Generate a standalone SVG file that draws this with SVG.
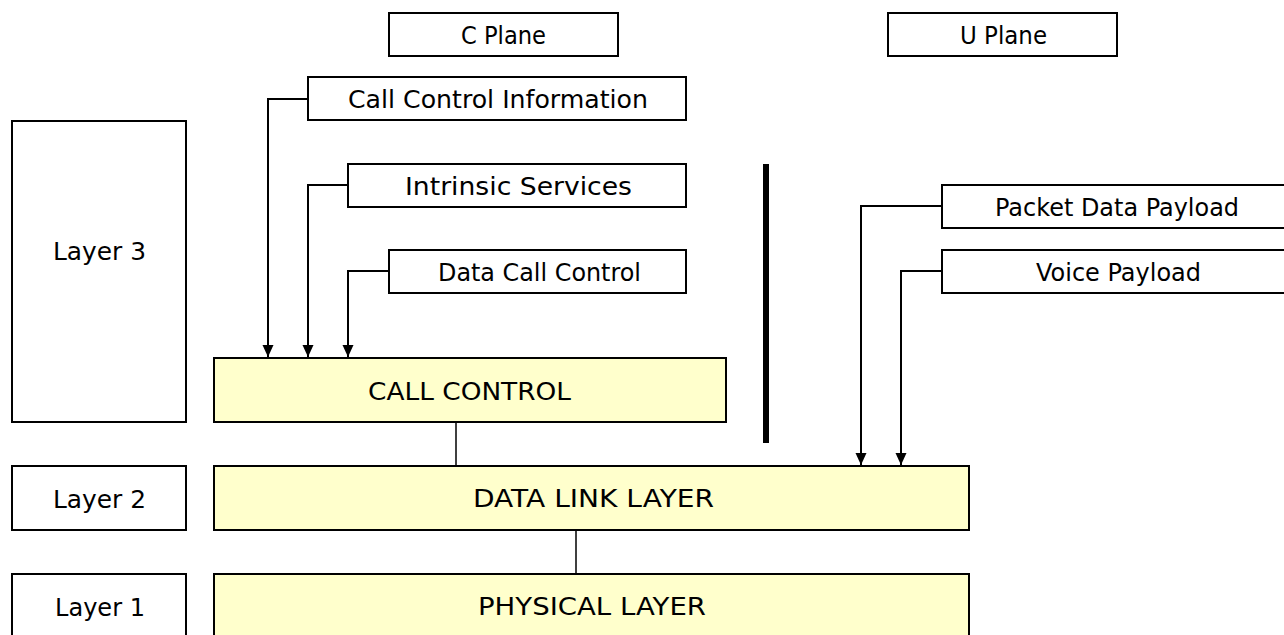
<svg xmlns="http://www.w3.org/2000/svg" width="1284" height="635" viewBox="0 0 1284 635">
<defs>
<style>
.box{fill:#ffffff;stroke:#000;stroke-width:2}
.layer{fill:#ffffcc;stroke:#000;stroke-width:2}
.t{font-family:"DejaVu Sans","Liberation Sans",sans-serif;font-size:24px;fill:#000;text-anchor:middle}
.c{fill:none;stroke:#000;stroke-width:2}
.l{fill:none;stroke:#000;stroke-width:1.5}
</style>
<marker id="ah" markerWidth="12" markerHeight="12" refX="12" refY="6" orient="auto" markerUnits="userSpaceOnUse" viewBox="0 0 12 12">
<path d="M0,0.5 L12,6 L0,11.5 Z" fill="#000"/>
</marker>
</defs>
<rect width="1284" height="635" fill="#fff"/>
<g id="cplane"><rect class="box" x="389" y="13" width="229" height="43"/><text class="t" x="503.5" y="44" textLength="85" lengthAdjust="spacingAndGlyphs">C Plane</text></g>
<g id="uplane"><rect class="box" x="888" y="13" width="229" height="43"/><text class="t" x="1003.5" y="44" textLength="87" lengthAdjust="spacingAndGlyphs">U Plane</text></g>
<g id="cci"><rect class="box" x="308" y="77" width="378" height="43"/><text class="t" x="498" y="108" textLength="300" lengthAdjust="spacingAndGlyphs">Call Control Information</text></g>
<g id="is"><rect class="box" x="348" y="164" width="338" height="43"/><text class="t" x="518.5" y="195" textLength="227" lengthAdjust="spacingAndGlyphs">Intrinsic Services</text></g>
<g id="dcc"><rect class="box" x="389" y="250" width="297" height="43"/><text class="t" x="539.5" y="281" textLength="203" lengthAdjust="spacingAndGlyphs">Data Call Control</text></g>
<g id="layer3"><rect class="box" x="12" y="121" width="174" height="301"/><text class="t" x="99.5" y="260" textLength="93" lengthAdjust="spacingAndGlyphs">Layer 3</text></g>
<g id="callcontrol"><rect class="layer" x="214" y="358" width="512" height="64"/><text class="t" x="469.5" y="400" textLength="203" lengthAdjust="spacingAndGlyphs">CALL CONTROL</text></g>
<g id="separator"><rect x="763" y="164" width="6" height="279" fill="#000"/></g>
<g id="pdp"><rect class="box" x="942" y="185" width="350" height="43"/><text class="t" x="1117" y="216" textLength="244" lengthAdjust="spacingAndGlyphs">Packet Data Payload</text></g>
<g id="vp"><rect class="box" x="942" y="250" width="350" height="43"/><text class="t" x="1118.5" y="281" textLength="165" lengthAdjust="spacingAndGlyphs">Voice Payload</text></g>
<g id="layer2"><rect class="box" x="12" y="466" width="174" height="64"/><text class="t" x="99.5" y="508" textLength="93" lengthAdjust="spacingAndGlyphs">Layer 2</text></g>
<g id="datalink"><rect class="layer" x="214" y="466" width="755" height="64"/><text class="t" x="593.5" y="507" textLength="241" lengthAdjust="spacingAndGlyphs">DATA LINK LAYER</text></g>
<g id="layer1"><rect class="box" x="12" y="574" width="174" height="70"/><text class="t" x="100" y="616" textLength="90" lengthAdjust="spacingAndGlyphs">Layer 1</text></g>
<g id="physical"><rect class="layer" x="214" y="574" width="755" height="70"/><text class="t" x="592" y="615" textLength="228" lengthAdjust="spacingAndGlyphs">PHYSICAL LAYER</text></g>
<g id="connectors">
<polyline class="c" points="308,99 268,99 268,357" marker-end="url(#ah)"/>
<polyline class="c" points="348,185 308,185 308,357" marker-end="url(#ah)"/>
<polyline class="c" points="389,271 348,271 348,357" marker-end="url(#ah)"/>
<polyline class="c" points="942,206 861,206 861,465" marker-end="url(#ah)"/>
<polyline class="c" points="942,271 901,271 901,465" marker-end="url(#ah)"/>
<line class="l" x1="456" y1="422" x2="456" y2="466"/>
<line class="l" x1="576" y1="530" x2="576" y2="574"/>
</g>
</svg>
